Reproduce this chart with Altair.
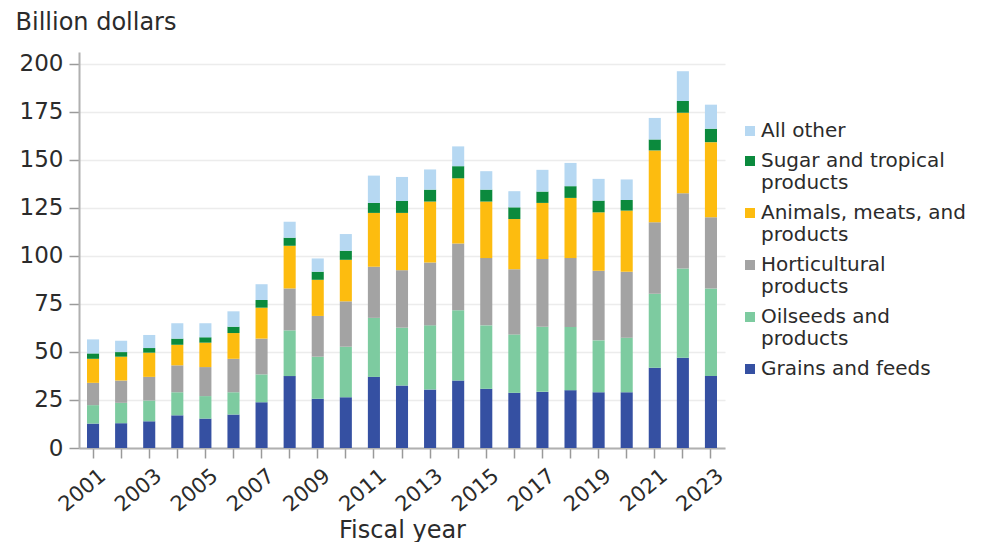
import altair as alt
import pandas as pd

years = list(range(2001, 2024))
grains = [12.7, 12.9, 13.9, 17.0, 15.3, 17.4, 23.8, 37.4, 25.6, 26.4, 37.0, 32.5, 30.4, 35.1, 30.8, 28.7, 29.2, 30.1, 29.0, 29.0, 41.7, 47.0, 37.4]
oilseeds = [9.6, 10.6, 10.8, 12.0, 11.7, 11.6, 14.5, 23.8, 21.9, 26.3, 30.7, 30.1, 33.4, 36.6, 33.0, 30.4, 33.9, 32.9, 27.0, 28.4, 38.6, 46.4, 45.6]
horticultural = [11.6, 11.6, 12.3, 14.0, 15.1, 17.4, 18.6, 21.8, 21.2, 23.6, 26.6, 29.9, 32.7, 34.7, 35.0, 33.9, 35.2, 35.8, 36.2, 34.3, 37.1, 39.1, 37.0]
animals = [12.5, 12.4, 12.6, 10.7, 12.7, 13.4, 16.1, 22.2, 18.8, 21.6, 28.0, 29.8, 31.7, 33.9, 29.4, 26.1, 29.2, 31.3, 30.4, 31.8, 37.4, 41.9, 39.1]
sugar = [2.8, 2.4, 2.4, 3.2, 2.8, 3.3, 4.0, 4.2, 4.2, 4.7, 5.2, 6.2, 6.2, 6.3, 6.2, 6.1, 5.9, 6.1, 6.1, 5.5, 5.7, 6.1, 7.0]
all_other = [7.3, 5.9, 6.8, 8.0, 7.3, 8.0, 8.2, 8.3, 6.9, 8.7, 14.2, 12.5, 10.5, 10.3, 9.6, 8.4, 11.3, 12.1, 11.3, 10.7, 11.2, 15.5, 12.5]

categories = [
    "Grains and feeds",
    "Oilseeds and products",
    "Horticultural products",
    "Animals, meats, and products",
    "Sugar and tropical products",
    "All other",
]
series = [grains, oilseeds, horticultural, animals, sugar, all_other]
colors = ["#3550A2", "#7DCBA0", "#A3A3A3", "#FDBC0F", "#0B8A3D", "#B6D8F2"]

rows = []
for ci, (cat, vals) in enumerate(zip(categories, series)):
    for y, v in zip(years, vals):
        rows.append({"year": y, "category": cat, "value": v, "order": ci})
df = pd.DataFrame(rows)

FONT = "DejaVu Sans"
TXT = "#2b2b2b"

# legend labels: wrap "... products" onto a second line
legend_label_expr = (
    "indexof(datum.label, ' products') > 0 ? "
    "[replace(datum.label, ' products', ''), 'products'] : datum.label"
)

chart = alt.Chart(df).mark_bar().encode(
    x=alt.X("year:O",
            scale=alt.Scale(paddingInner=0.57, paddingOuter=0.285),
            axis=alt.Axis(title="Fiscal year",
                          labelExpr="datum.value % 2 == 1 ? datum.label : ''",
                          labelAngle=-40, labelAlign="right", labelBaseline="middle",
                          labelFontSize=21, labelFont=FONT, labelColor=TXT,
                          labelPadding=15, labelOffset=10,
                          tickSize=10, tickColor="#9a9a9a", tickWidth=1.5,
                          domainColor="#b0b0b0", domainWidth=2,
                          titleFont=FONT, titleFontSize=24, titleFontWeight="normal",
                          titleColor=TXT, titleY=89, titleBaseline="alphabetic",
                          grid=False, labelOverlap=False)),
    y=alt.Y("value:Q", stack="zero",
            scale=alt.Scale(domain=[0, 206], nice=False),
            axis=alt.Axis(title="Billion dollars", values=[0, 25, 50, 75, 100, 125, 150, 175, 200],
                          titleAngle=0, titleAlign="left", titleBaseline="alphabetic",
                          titleX=-64, titleY=-23,
                          titleFont=FONT, titleFontSize=24, titleFontWeight="normal", titleColor=TXT,
                          labelFont=FONT, labelFontSize=23, labelColor=TXT, labelPadding=6,
                          tickSize=10, tickColor="#9a9a9a", tickWidth=1.5,
                          domainColor="#b0b0b0", domainWidth=2,
                          grid=True, gridColor="#ececec", gridWidth=1.5)),
    color=alt.Color("category:N",
                    scale=alt.Scale(domain=categories[::-1], range=colors[::-1]),
                    legend=alt.Legend(title=None, orient="none", legendX=661, legendY=69,
                                      labelExpr=legend_label_expr,
                                      labelFont=FONT, labelFontSize=20, labelColor=TXT,
                                      labelBaseline="middle", labelLimit=400,
                                      symbolType="square", symbolSize=100, symbolStrokeWidth=0,
                                      labelOffset=1, rowPadding=10)),
    order=alt.Order("order:Q", sort="ascending"),
).properties(
    width=646, height=396,
    autosize=alt.AutoSizeParams(type="none"),
    padding={"left": 71, "top": 44, "right": 248, "bottom": 94},
).configure_view(stroke=None)

chart.save("out.html", embed_options={"renderer": "svg", "actions": False})
